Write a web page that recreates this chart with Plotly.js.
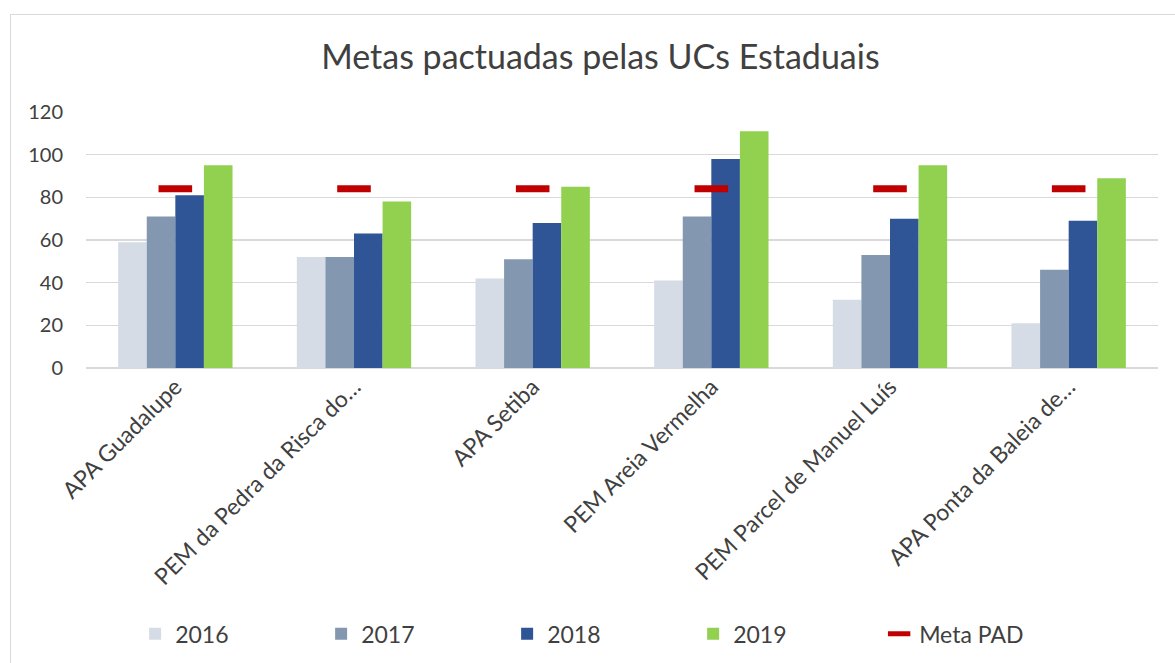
<!DOCTYPE html>
<html>
<head>
<meta charset="utf-8">
<script src="https://cdn.plot.ly/plotly-3.0.1.min.js"></script>
<style>
  html, body { margin: 0; padding: 0; background: #fff; }
  #chart { width: 1175px; height: 663px; }
  #frame { position: absolute; left: 10px; top: 14px; width: 1175px; height: 663px;
           border: 1px solid #D9D9D9; pointer-events: none; box-sizing: border-box; }
</style>
</head>
<body>
<div id="chart"></div>
<div id="frame"></div>
<script>
const categories = [
  "APA Guadalupe",
  "PEM da Pedra da Risca do…",
  "APA Setiba",
  "PEM Areia Vermelha",
  "PEM Parcel de Manuel Luís",
  "APA Ponta da Baleia de…"
];
const years = ["2016", "2017", "2018", "2019"];
const values2016 = [59, 52, 42, 41, 32, 21];
const values2017 = [71, 52, 51, 71, 53, 46];
const values2018 = [81, 63, 68, 98, 70, 69];
const values2019 = [95, 78, 85, 111, 95, 89];
const metaPAD = [84, 84, 84, 84, 84, 84];
const yTicks = [0, 20, 40, 60, 80, 100, 120];

const colors = ["#D6DCE5", "#8497B0", "#2F5597", "#92D050"];
const series = [values2016, values2017, values2018, values2019];

const font = "Lato, 'Open Sans', sans-serif";

const traces = series.map((vals, i) => ({
  type: "bar",
  name: years[i],
  x: categories,
  y: vals,
  marker: { color: colors[i], line: { width: 0 } },
  hoverinfo: "x+y+name"
}));

traces.push({
  type: "scatter",
  mode: "markers",
  name: "Meta PAD",
  x: categories,
  y: metaPAD,
  marker: { symbol: "line-ew", size: 24, color: "#C00000",
            line: { color: "#C00000", width: 7 } }
});

const layout = {
  width: 1175,
  height: 663,
  paper_bgcolor: "#ffffff",
  plot_bgcolor: "#ffffff",
  margin: { l: 86, r: 17, t: 112, b: 295 },
  title: {
    text: "Metas pactuadas pelas UCs Estaduais",
    font: { family: font, size: 34, color: "#404040" },
    x: 0.511, xanchor: "center",
    y: 0.914, yanchor: "middle"
  },
  barmode: "group",
  bargap: 0.36,
  bargroupgap: 0,
  font: { family: font, color: "#595959" },
  xaxis: {
    type: "category",
    tickangle: -45,
    tickfont: { family: font, size: 23, color: "#404040" },
    showgrid: false,
    showline: false,
    ticks: "",
    zeroline: false,
    automargin: false
  },
  yaxis: {
    range: [0, 120],
    tickvals: yTicks,
    ticktext: yTicks.map(String),
    tickfont: { family: font, size: 20, color: "#404040" },
    showgrid: true,
    gridcolor: "#D9D9D9",
    gridwidth: 1.3,
    zeroline: true,
    zerolinecolor: "#D9D9D9",
    zerolinewidth: 2,
    showline: false,
    ticks: "",
    ticklabelstandoff: 22,
    automargin: false
  },
  showlegend: true,
  legend: {
    orientation: "h",
    xref: "container", yref: "container",
    x: 0.115, xanchor: "left",
    y: 0.044, yanchor: "middle",
    entrywidth: 141,
    entrywidthmode: "pixels",
    itemwidth: 30,
    font: { family: font, size: 23, color: "#404040" },
    bgcolor: "rgba(0,0,0,0)",
    traceorder: "normal"
  }
};

Plotly.newPlot("chart", traces, layout, { displayModeBar: false, staticPlot: true });
</script>
</body>
</html>
